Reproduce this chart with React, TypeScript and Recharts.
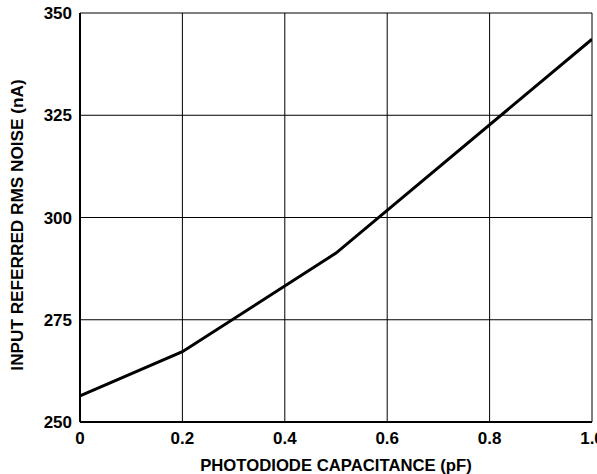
import React from 'react';
import { LineChart, Line, XAxis, YAxis, CartesianGrid } from 'recharts';

const capacitance = [0, 0.2, 0.5, 1.0];
const noise = [256.4, 267.2, 291.3, 343.6];
const xTicks = [0, 0.2, 0.4, 0.6, 0.8, 1.0];
const yTicks = [250, 275, 300, 325, 350];
const xTitle = 'PHOTODIODE CAPACITANCE (pF)';
const yTitle = 'INPUT REFERRED RMS NOISE (nA)';

const data = capacitance.map((c, i) => ({ c, n: noise[i] }));

const font = '"Liberation Sans", Arial, sans-serif';
const tickStyle = { fontFamily: font, fontWeight: 700, fontSize: 17, fill: '#000' };

const YTitle = () => (
  <text
    x={16.5}
    y={225}
    transform="rotate(-90, 16.5, 225)"
    textAnchor="middle"
    dominantBaseline="central"
    style={{ fontFamily: font, fontWeight: 700, fontSize: 17.2, fill: '#000' }}
  >
    {yTitle}
  </text>
);

export default function App() {
  return (
    <div style={{ position: 'absolute', left: 0, top: 0, width: 597, height: 474, background: '#fff' }}>
      <LineChart width={597} height={474} data={data} margin={{ top: 13, right: 5, left: 0, bottom: 0 }}>
        <CartesianGrid stroke="#000" strokeWidth={1} />
        <XAxis
          dataKey="c"
          type="number"
          domain={[0, 1]}
          ticks={xTicks}
          tickFormatter={(v: number) => (v === 0 ? '0' : v.toFixed(1))}
          height={52}
          tickSize={0}
          tickMargin={10}
          axisLine={{ stroke: '#000', strokeWidth: 2 }}
          tick={tickStyle}
          interval={0}
          allowDataOverflow
          label={{ value: xTitle, position: 'insideBottom', offset: 3, style: { fontFamily: font, fontWeight: 700, fontSize: 16.7, fill: '#000' } }}
        />
        <XAxis xAxisId="top" orientation="top" dataKey="c" type="number" domain={[0, 1]} height={0} tick={false} tickSize={0} axisLine={{ stroke: '#000', strokeWidth: 2 }} />
        <YAxis
          type="number"
          domain={[250, 350]}
          ticks={yTicks}
          width={80}
          tickSize={0}
          tickMargin={8}
          axisLine={{ stroke: '#000', strokeWidth: 2 }}
          tick={tickStyle}
          interval={0}
          label={{ content: () => <YTitle /> }}
        />
        <YAxis yAxisId="right" orientation="right" type="number" domain={[250, 350]} width={0} tick={false} tickSize={0} axisLine={{ stroke: '#000', strokeWidth: 2 }} />
        <Line type="linear" dataKey="n" stroke="#000" strokeWidth={3} dot={false} isAnimationActive={false} />
      </LineChart>
    </div>
  );
}
